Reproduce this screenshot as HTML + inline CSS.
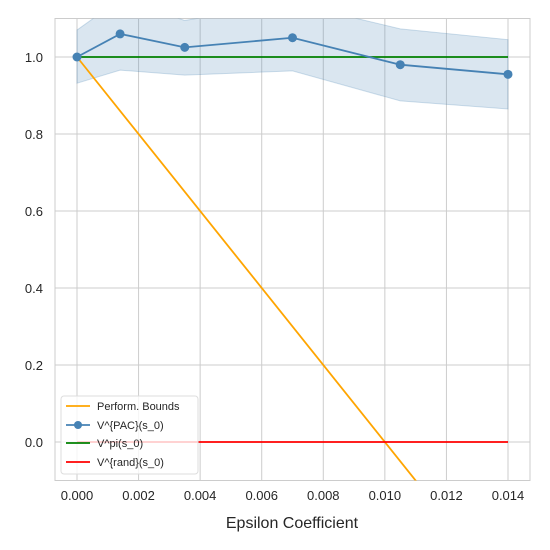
<!DOCTYPE html>
<html><head><meta charset="utf-8"><style>
html,body{margin:0;background:#fff;overflow:hidden;width:550px;height:550px}
svg{display:block}
text{font-family:"Liberation Sans","DejaVu Sans",sans-serif;fill:#262626}
</style></head><body>
<svg id="chart" width="550" height="550" xmlns="http://www.w3.org/2000/svg">
<defs><clipPath id="clip"><rect x="55" y="18.5" width="475" height="462"/></clipPath></defs>
<rect x="55" y="18.5" width="475" height="462" fill="#fff" stroke="#ccc"/>
<g id="grid"></g>
<g id="marks" clip-path="url(#clip)"></g>
<g id="ticks"></g>
<text x="292" y="528" text-anchor="middle" font-size="16">Epsilon Coefficient</text>
<g id="legend">
<rect x="61" y="396" width="137" height="78" rx="3" fill="#fff" fill-opacity="0.8" stroke="#ddd"/>
<line x1="66" y1="406" x2="90" y2="406" stroke="orange" stroke-width="1.8"/>
<text x="97" y="410" font-size="11">Perform. Bounds</text>
<line x1="66" y1="425" x2="90" y2="425" stroke="#4682b4" stroke-width="1.8"/>
<circle cx="78" cy="425" r="4" fill="#4682b4"/>
<text x="97" y="429" font-size="11">V^{PAC}(s_0)</text>
<line x1="66" y1="443" x2="90" y2="443" stroke="green" stroke-width="1.8"/>
<text x="97" y="447" font-size="11">V^pi(s_0)</text>
<line x1="66" y1="462" x2="90" y2="462" stroke="red" stroke-width="1.8"/>
<text x="97" y="466" font-size="11">V^{rand}(s_0)</text>
</g>
</svg>
<script>
const xs=[0,0.0014,0.0035,0.007,0.0105,0.014];
const pac=[1.0,1.06,1.025,1.05,0.98,0.955];
const upper=[1.07,1.15,1.095,1.14,1.073,1.045];
const lower=[0.932,0.966,0.953,0.964,0.886,0.865];
const piVal=1.0, randVal=0.0;
const xTicks=[0,0.002,0.004,0.006,0.008,0.010,0.012,0.014];
const xTickLabels=["0.000","0.002","0.004","0.006","0.008","0.010","0.012","0.014"];
const yTicks=[0,0.2,0.4,0.6,0.8,1.0];
const yTickLabels=["0.0","0.2","0.4","0.6","0.8","1.0"];
const X=v=>77+v*(508-77)/0.014, Y=v=>442-v*385;
const NS="http://www.w3.org/2000/svg";
function mk(p,t,a){const e=document.createElementNS(NS,t);for(const k in a)e.setAttribute(k,a[k]);document.getElementById(p).appendChild(e);return e;}
xTicks.forEach((t,i)=>{const g=mk('grid','line',{x1:X(t),x2:X(t),y1:18.5,y2:480.5,stroke:'#ccc'});


const l=mk('ticks','text',{x:X(t),y:500,'text-anchor':'middle','font-size':13});l.textContent=xTickLabels[i];

});
yTicks.forEach((t,i)=>{const g=mk('grid','line',{x1:55,x2:530,y1:Y(t),y2:Y(t),stroke:'#ccc'});


const l=mk('ticks','text',{x:43,y:Y(t)+5,'text-anchor':'end','font-size':13});l.textContent=yTickLabels[i];

});
let d=xs.map((x,i)=>(i?'L':'M')+X(x)+','+Y(upper[i])).join('')+xs.slice().reverse().map((x,j)=>'L'+X(x)+','+Y(lower[xs.length-1-j])).join('')+'Z';
const band=mk('marks','path',{d:d,fill:'#4682b4','fill-opacity':0.2,stroke:'#4682b4','stroke-opacity':0.25});


const ob=mk('marks','line',{x1:X(0),y1:Y(1-100*0),x2:X(0.014),y2:Y(1-100*0.014),stroke:'orange','stroke-width':1.8});


const gl=mk('marks','line',{x1:X(xs[0]),y1:Y(piVal),x2:X(xs[xs.length-1]),y2:Y(piVal),stroke:'green','stroke-width':1.8});


const rl=mk('marks','line',{x1:X(xs[0]),y1:Y(randVal),x2:X(xs[xs.length-1]),y2:Y(randVal),stroke:'red','stroke-width':1.8});


const pl=mk('marks','polyline',{points:xs.map((x,i)=>X(x)+','+Y(pac[i])).join(' '),fill:'none',stroke:'#4682b4','stroke-width':1.8});


xs.forEach((x,i)=>{const c=mk('marks','circle',{cx:X(x),cy:Y(pac[i]),r:4.5,fill:'#4682b4'});

});
</script>
</body></html>
